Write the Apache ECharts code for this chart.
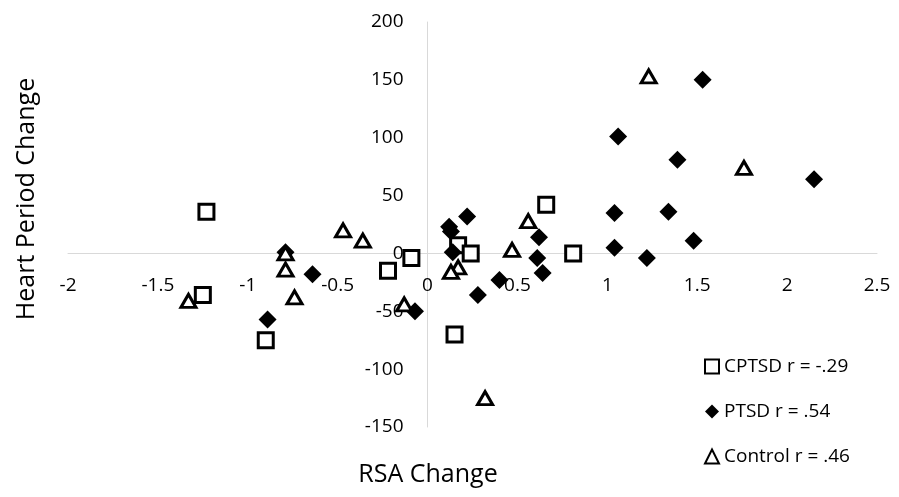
<!DOCTYPE html>
<html>
<head>
<meta charset="utf-8">
<script src="https://cdn.jsdelivr.net/npm/echarts@6/dist/echarts.min.js"></script>
<style>
  html, body {margin: 0; padding: 0; background: #fff;}
  #chart {width: 899px; height: 497px;}
</style>
</head>
<body>
<div id="chart"></div>
<script>
// [RSA change, heart period change]
const cptsd = [
  [-1.23, 36], [-1.25, -36], [-0.90, -75], [-0.22, -15], [-0.09, -4],
  [0.17, 7], [0.24, 0], [0.15, -70], [0.66, 42], [0.81, 0]
];
const ptsd = [
  [-0.79, 1], [-0.64, -18], [-0.89, -57], [-0.07, -50], [0.12, 23],
  [0.13, 19], [0.22, 32], [0.14, 1], [0.40, -23], [0.28, -36],
  [0.62, 14], [0.61, -4], [0.64, -17], [1.04, 35], [1.04, 5],
  [1.22, -4], [1.06, 101], [1.53, 150], [1.39, 81], [2.15, 64],
  [1.34, 36], [1.48, 11]
];
const control = [
  [-1.33, -41], [-0.79, 0], [-0.79, -14], [-0.74, -38], [-0.47, 20],
  [-0.36, 11], [-0.13, -44], [0.17, -12], [0.13, -16], [0.56, 28],
  [0.47, 3], [0.32, -125], [1.23, 153], [1.76, 74]
];
const seriesNames = ['CPTSD r = -.29', 'PTSD r = .54', 'Control r = .46'];
const xRange = [-2, 2.5];
const yRange = [-150, 200];

const W = 899, H = 497;
const grid = {left: 68, right: 22, top: 22, bottom: 70};
// shift the axes so they cross at zero (Excel style), labels included
const gridW = W - grid.left - grid.right;
const gridH = H - grid.top - grid.bottom;
const xAxisOffset = -gridH * (0 - yRange[0]) / (yRange[1] - yRange[0]);
const yAxisOffset = -gridW * (0 - xRange[0]) / (xRange[1] - xRange[0]);

const font = 'Open Sans';
const myChart = echarts.init(document.getElementById('chart'));
myChart.setOption({
  animation: false,
  textStyle: {fontFamily: font},
  grid: grid,
  xAxis: {
    type: 'value',
    min: xRange[0], max: xRange[1], interval: 0.5,
    offset: xAxisOffset,
    axisLine: {onZero: false, lineStyle: {color: '#d9d9d9', width: 1}},
    axisTick: {show: false},
    splitLine: {show: false},
    axisLabel: {color: '#000', fontSize: 19, margin: 23}
  },
  yAxis: {
    type: 'value',
    min: yRange[0], max: yRange[1], interval: 50,
    offset: yAxisOffset,
    axisLine: {show: true, onZero: false, lineStyle: {color: '#d9d9d9', width: 1}},
    axisTick: {show: false},
    splitLine: {show: false},
    axisLabel: {color: '#000', fontSize: 19, margin: 24}
  },
  legend: {
    orient: 'vertical',
    left: 699, top: 352,
    itemGap: 26,
    itemWidth: 14, itemHeight: 14,
    textStyle: {fontSize: 19, color: '#000'},
    data: seriesNames
  },
  graphic: [
    {type: 'text', x: 428, y: 475,
      style: {text: 'RSA Change', font: '25px "Open Sans"', fill: '#000', align: 'center', verticalAlign: 'middle'}},
    {type: 'text', x: 27, y: 199, rotation: Math.PI / 2,
      style: {text: 'Heart Period Change', font: '25px "Open Sans"', fill: '#000', align: 'center', verticalAlign: 'middle'}}
  ],
  series: [{
    name: seriesNames[0], type: 'scatter', data: cptsd,
    symbol: 'rect', symbolSize: 15,
    itemStyle: {color: '#fff', borderColor: '#000', borderWidth: 3, opacity: 1}
  }, {
    name: seriesNames[1], type: 'scatter', data: ptsd,
    symbol: 'diamond', symbolSize: 18,
    itemStyle: {color: '#000', opacity: 1}
  }, {
    name: seriesNames[2], type: 'scatter', data: control,
    symbol: 'triangle', symbolSize: [15, 13],
    itemStyle: {color: '#fff', borderColor: '#000', borderWidth: 3, opacity: 1}
  }]
});
</script>
</body>
</html>
